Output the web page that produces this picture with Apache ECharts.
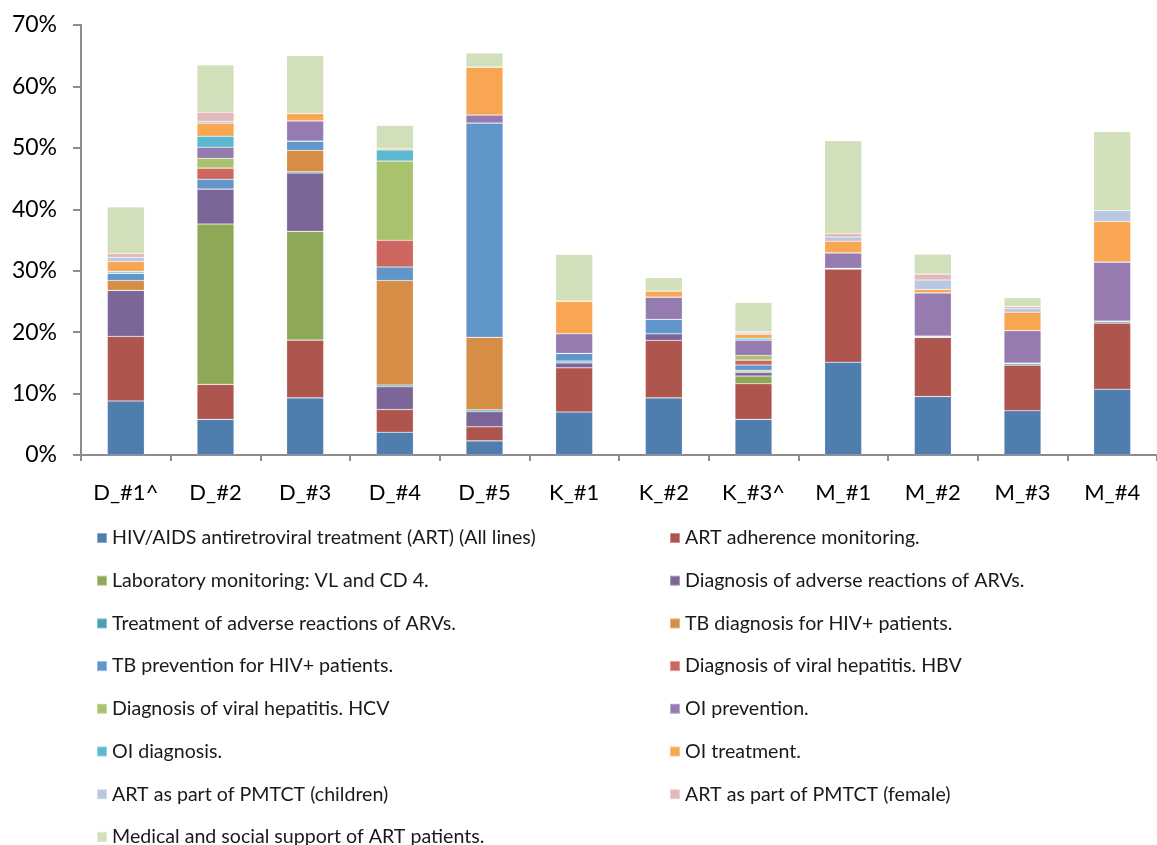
<!DOCTYPE html>
<html>
<head>
<meta charset="utf-8">
<script src="https://cdn.jsdelivr.net/npm/echarts@6/dist/echarts.min.js"></script>
<style>
html,body{margin:0;padding:0;background:#fff;}
#chart{width:1157px;height:845px;}
</style>
</head>
<body>
<div id="chart"></div>
<script>
const categories = ['D_#1^','D_#2','D_#3','D_#4','D_#5','K_#1','K_#2','K_#3^','M_#1','M_#2','M_#3','M_#4'];
const yTicks = [0,10,20,30,40,50,60,70];

const seriesNames = [
  'HIV/AIDS antiretroviral treatment (ART) (All lines)',
  'ART adherence monitoring.',
  'Laboratory monitoring: VL and CD 4.',
  'Diagnosis of adverse reactions of ARVs.',
  'Treatment of adverse reactions of ARVs.',
  'TB diagnosis for HIV+ patients.',
  'TB prevention for HIV+ patients.',
  'Diagnosis of viral hepatitis. HBV',
  'Diagnosis of viral hepatitis. HCV',
  'OI prevention.',
  'OI diagnosis.',
  'OI treatment.',
  'ART as part of PMTCT (children)',
  'ART as part of PMTCT (female)',
  'Medical and social support of ART patients.'
];

const art       = [8.8, 5.8, 9.3, 3.7, 2.3, 7.0, 9.3, 5.8, 15.1, 9.5, 7.2, 10.7];
const adherence = [10.5, 5.7, 9.4, 3.7, 2.3, 7.2, 9.35, 5.8, 15.2, 9.65, 7.45, 10.8];
const lab       = [0, 26.1, 17.7, 0, 0, 0, 0, 1.25, 0, 0, 0, 0];
const diagAdv   = [7.5, 5.7, 9.5, 3.7, 2.45, 0.8, 1.1, 0.55, 0, 0, 0, 0];
const treatAdv  = [0, 0, 0.2, 0.3, 0.3, 0.3, 0, 0.2, 0.1, 0.2, 0.3, 0.3];
const tbDiag    = [1.6, 0, 3.5, 17.0, 11.8, 0, 0, 0.2, 0, 0, 0, 0];
const tbPrev    = [1.2, 1.6, 1.5, 2.2, 34.9, 1.25, 2.35, 0.85, 0, 0, 0, 0];
const hbv       = [0, 1.8, 0, 4.35, 0, 0, 0, 0.8, 0, 0, 0, 0];
const hcv       = [0, 1.6, 0, 12.9, 0, 0, 0, 0.75, 0, 0, 0, 0];
const oiPrev    = [0, 1.8, 3.3, 0, 1.3, 3.2, 3.6, 2.5, 2.5, 7.05, 5.3, 9.6];
const oiDiag    = [0.3, 1.8, 0, 1.8, 0, 0, 0, 0.3, 0, 0, 0, 0];
const oiTreat   = [1.6, 2.1, 1.2, 0.2, 7.8, 5.3, 1.0, 0.65, 1.9, 0.55, 3.0, 6.6];
const children  = [0.65, 0.3, 0, 0, 0, 0, 0, 0.2, 0.7, 1.55, 0.55, 1.8];
const female    = [0.65, 1.5, 0, 0, 0, 0, 0, 0.2, 0.55, 0.95, 0.4, 0];
const medical   = [7.6, 7.7, 9.4, 3.8, 2.3, 7.6, 2.15, 4.8, 15.1, 3.25, 1.4, 12.85];

const seriesValues = [art, adherence, lab, diagAdv, treatAdv, tbDiag, tbPrev, hbv, hcv, oiPrev, oiDiag, oiTreat, children, female, medical];

const colors = ['#4F7DAD','#AE554E','#8EA858','#7C6597','#4AA0B5','#D68D45','#6096C9','#CC665E','#A9C26D','#957BB0','#5BB8D0','#F9A653','#B9C8E0','#E1B9B8','#D1DFBB'];

const FONT = 'Lato, "Open Sans", sans-serif';

const series = seriesNames.map((name, i) => ({
  name: name,
  type: 'bar',
  stack: 'total',
  barWidth: 37,
  data: seriesValues[i],
  itemStyle: { color: colors[i], borderColor: 'rgba(255,255,255,0.35)', borderWidth: 0.6 },
  emphasis: { disabled: true }
}));

// legend laid out row-major in two columns; last item on its own row
const leftNames = seriesNames.filter((_, i) => i % 2 === 0 && i < 14);
const rightNames = seriesNames.filter((_, i) => i % 2 === 1);
const lastNames = [seriesNames[14]];

const ROW = 42.7;
const LEG_TOP = 523;
const legendCommon = {
  orient: 'vertical',
  itemWidth: 10,
  itemHeight: 10,
  itemGap: ROW - 20,
  icon: 'rect',
  selectedMode: false,
  padding: 0,
  textStyle: { fontFamily: FONT, fontSize: 19.6, color: '#1a1a1a', lineHeight: 20 }
};

const chart = echarts.init(document.getElementById('chart'), null, { renderer: 'canvas' });
chart.setOption({
  animation: false,
  color: colors,
  grid: { left: 81, right: -11, top: 25, bottom: 390, containLabel: false },
  legend: [
    Object.assign({}, legendCommon, { left: 96, top: LEG_TOP + 5, data: leftNames }),
    Object.assign({}, legendCommon, { left: 669, top: LEG_TOP + 5, data: rightNames }),
    Object.assign({}, legendCommon, { left: 96, top: LEG_TOP + 5 + 7 * ROW, data: lastNames })
  ],
  xAxis: {
    type: 'category',
    data: categories,
    boundaryGap: true,
    axisLine: { lineStyle: { color: '#8c8c8c', width: 2 } },
    axisTick: { show: true, length: 6, lineStyle: { color: '#8c8c8c', width: 2 } },
    axisLabel: { fontFamily: FONT, fontSize: 22, color: '#000', margin: 27 }
  },
  yAxis: {
    type: 'value',
    min: yTicks[0],
    max: yTicks[yTicks.length - 1],
    interval: 10,
    splitLine: { show: false },
    axisLine: { show: true, lineStyle: { color: '#8c8c8c', width: 2 } },
    axisTick: { show: true, length: 8, lineStyle: { color: '#8c8c8c', width: 2 } },
    axisLabel: { fontFamily: FONT, fontSize: 23, color: '#000', margin: 24, formatter: '{value}%' }
  },
  series: series
});
</script>
</body>
</html>
